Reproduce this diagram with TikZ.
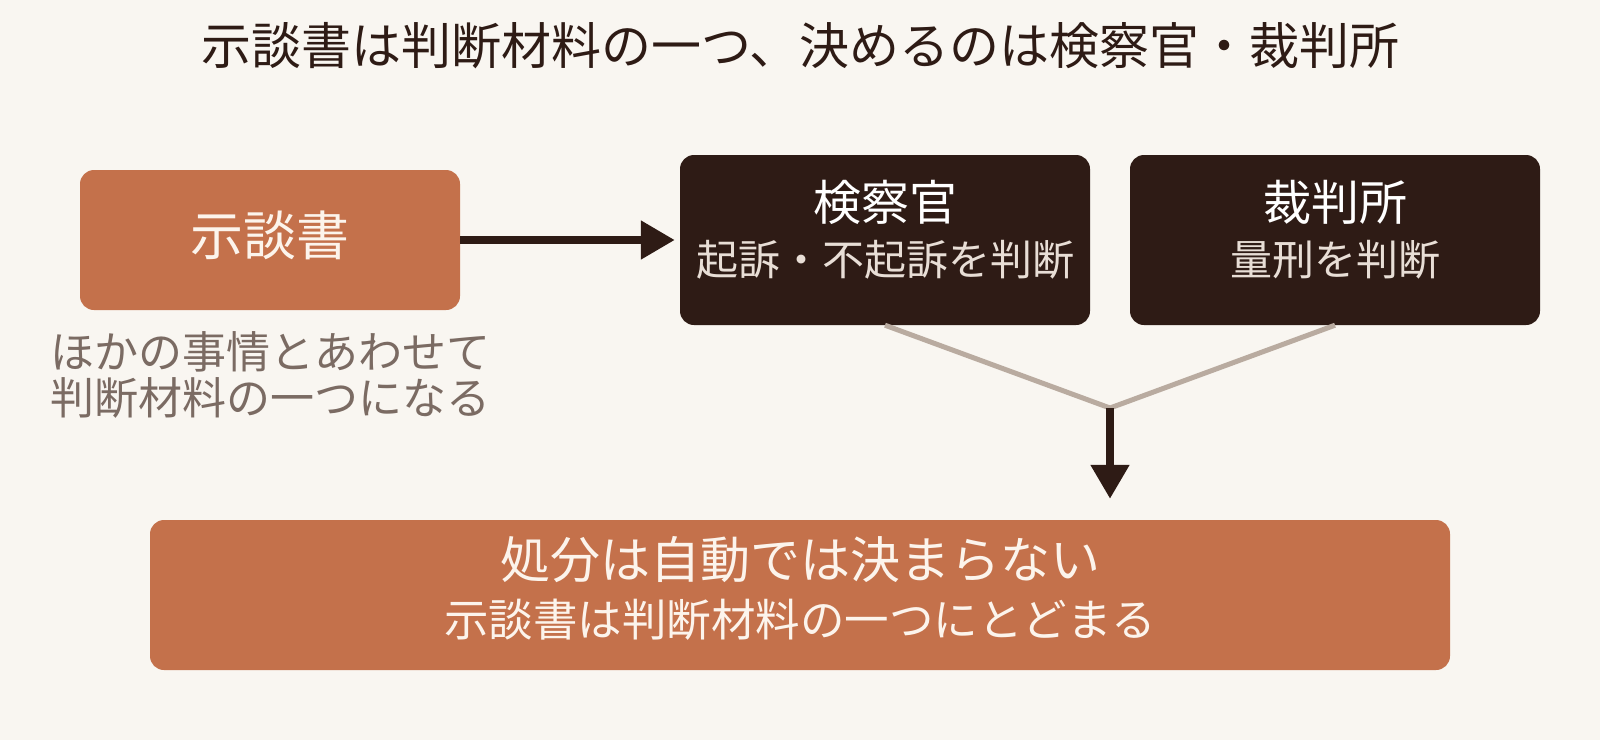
\documentclass[tikz,border=0pt]{standalone}
\usepackage{fontspec}
\setmainfont{Noto Sans CJK JP}
\usetikzlibrary{arrows.meta,calc}
\definecolor{bg}{HTML}{F9F6F1}
\definecolor{terra}{HTML}{C4714B}
\definecolor{dark}{HTML}{2E1B15}
\definecolor{muted}{HTML}{7B6B63}
\definecolor{linegray}{HTML}{B9ABA0}
\definecolor{cream}{HTML}{FCF4EC}
\definecolor{subtext}{HTML}{E8DED6}
\newcommand\myfs[2]{\fontsize{#1pt}{#2pt}\selectfont}
\begin{document}
\begin{tikzpicture}[x=1pt,y=-1pt,
  orangebox/.style={fill=terra, rounded corners=14pt, inner sep=0pt, draw=none},
  darkbox/.style={fill=dark, rounded corners=14pt, inner sep=0pt, draw=none, minimum width=410pt, minimum height=170pt},
  boxtitle/.style={inner sep=0pt, text=cream},
  darktitle/.style={inner sep=0pt, text=white, font=\myfs{48}{56}},
  darksub/.style={inner sep=0pt, text=subtext, font=\myfs{42}{50}},
  mainarrow/.style={draw=dark, line width=8pt, -{Triangle[length=34pt,width=37pt]}},
  joinline/.style={draw=linegray, line width=5pt}
]
\useasboundingbox (0,0) rectangle (1600,740);
\fill[bg] (0,0) rectangle (1600,740);

\node[inner sep=0pt, text=dark, font=\myfs{50}{56}] (title) at (800,46) {示談書は判断材料の一つ、決めるのは検察官・裁判所};

\node[orangebox, minimum width=380pt, minimum height=140pt] (jidan) at (270,240) {};
\node[boxtitle, font=\myfs{53}{60}] (jidanT) at (270,235) {示談書};

\node[inner sep=0pt, text=muted, align=left, anchor=west, font=\myfs{44}{46}] (note) at (50,375) {ほかの事情とあわせて\\判断材料の一つになる};

\node[darkbox] (kensatsu) at (885,240) {};
\node[darktitle] (kensatsuT) at (885,202) {検察官};
\node[darksub] (kensatsuS) at (885,260) {起訴・不起訴を判断};

\node[darkbox] (saiban) at (1335,240) {};
\node[darktitle] (saibanT) at (1335,202) {裁判所};
\node[darksub] (saibanS) at (1335,260) {量刑を判断};

\node[orangebox, minimum width=1300pt, minimum height=150pt] (result) at (800,595) {};
\node[boxtitle, font=\myfs{50}{58}] (resultT) at (800,560) {処分は自動では決まらない};
\node[boxtitle, font=\myfs{44.5}{54}] (resultS) at (800,620) {示談書は判断材料の一つにとどまる};

\coordinate (junc) at (1110,408);

\draw[mainarrow, shorten >=5pt] (jidan.east) -- (kensatsu.west);
\draw[joinline] (kensatsu.south) -- (junc) -- (saiban.south);
\draw[mainarrow, shorten >=21pt] (junc) -- (result.north -| junc);
\end{tikzpicture}
\end{document}
